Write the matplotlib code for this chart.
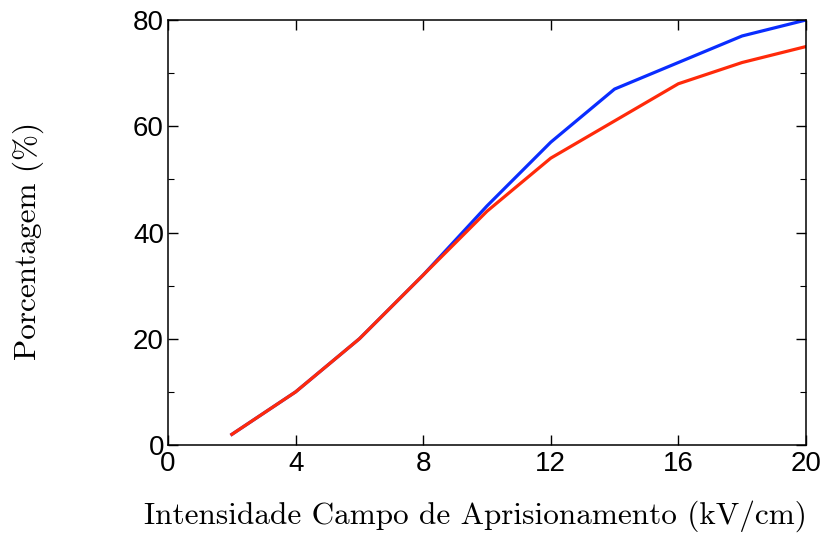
import matplotlib
matplotlib.use("Agg")
import matplotlib.pyplot as plt
from matplotlib.ticker import MultipleLocator

# campo de aprisionamento (kV/cm)
campo = [2, 4, 6, 8, 10, 12, 14, 16, 18, 20]
# porcentagem para as duas condicoes
serie_azul = [2, 10, 20, 32, 45, 57, 67, 72, 77, 80]
serie_vermelha = [2, 10, 20, 32, 44, 54, 61, 68, 72, 75]

fig = plt.figure(figsize=(8.24, 5.34), dpi=100)
ax = fig.add_axes([0.204, 0.1667, 0.774, 0.7958])

ax.plot(campo, serie_azul, color="#0a2dff", lw=2.3)
ax.plot(campo, serie_vermelha, color="#ff2a0a", lw=2.3)

ax.set_xlim(0, 20)
ax.set_ylim(0, 80)
ax.xaxis.set_major_locator(MultipleLocator(4))
ax.yaxis.set_major_locator(MultipleLocator(20))
ax.yaxis.set_minor_locator(MultipleLocator(10))

ax.tick_params(which="both", direction="in", top=True, right=True)
ax.tick_params(which="major", length=7, width=1)
ax.tick_params(which="minor", length=4, width=0.8)
ax.tick_params(axis="x", pad=4)
ax.tick_params(axis="y", pad=3)

for lbl in ax.get_xticklabels() + ax.get_yticklabels():
    lbl.set_family("Liberation Sans")
    lbl.set_fontsize(20)

for sp in ax.spines.values():
    sp.set_linewidth(1.1)

ax.set_xlabel("Intensidade Campo de Aprisionamento (kV/cm)",
              family="cmr10", fontsize=22.5, labelpad=17, x=0.482)
ax.set_ylabel("Porcentagem (%)", family="cmr10", fontsize=22.5,
              labelpad=64, y=0.48)

fig.savefig("out.png", dpi=100)
